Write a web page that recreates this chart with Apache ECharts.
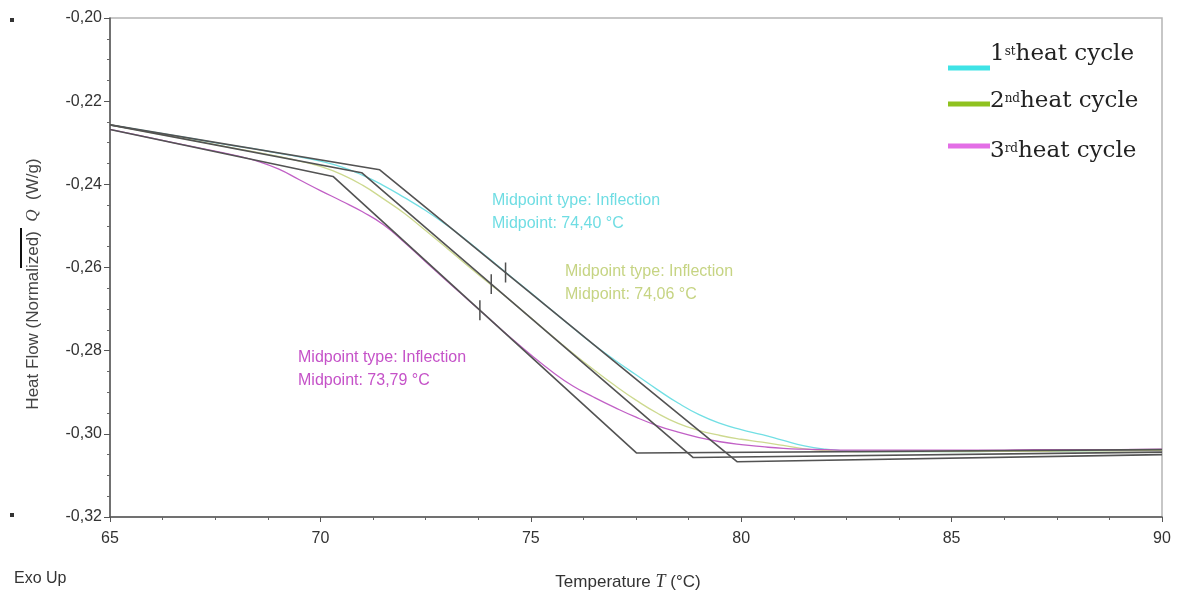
<!DOCTYPE html>
<html>
<head>
<meta charset="utf-8">
<script src="https://cdn.jsdelivr.net/npm/echarts@6/dist/echarts.min.js"></script>
<style>
  html, body { margin: 0; padding: 0; background: #fff; }
  #chart { width: 1179px; height: 599px; }
</style>
</head>
<body>
<div id="chart"></div>
<script>
// DSC glass-transition scans: heat flow vs temperature for three heating cycles
const temps = [65, 66, 67, 68, 68.5, 69, 69.5, 70, 70.5, 71, 71.5, 72, 72.5, 73, 73.5, 74, 74.5, 75, 75.5, 76,
  76.5, 77, 77.5, 78, 78.5, 79, 79.5, 80, 80.5, 81, 81.5, 82, 82.5, 83, 84, 85, 86, 87, 88, 89, 90];

const heat1 = [-0.2257, -0.2274, -0.2291, -0.2308, -0.2316, -0.2325, -0.2334, -0.2344, -0.2358, -0.2378,
  -0.2403, -0.2432, -0.2463, -0.2498, -0.2537, -0.2578, -0.2620, -0.2661, -0.2703, -0.2745,
  -0.2786, -0.2823, -0.2858, -0.2893, -0.2926, -0.2954, -0.2975, -0.2990, -0.3002, -0.3016,
  -0.3029, -0.3037, -0.3041, -0.3043, -0.3043, -0.3043, -0.3042, -0.3042, -0.3041, -0.3040, -0.3039];

const heat2 = [-0.2257, -0.2276, -0.2295, -0.2314, -0.2323, -0.2333, -0.2344, -0.2357, -0.2376, -0.2402,
  -0.2435, -0.2470, -0.2511, -0.2553, -0.2596, -0.2637, -0.2678, -0.2721, -0.2764, -0.2806,
  -0.2846, -0.2884, -0.2919, -0.2950, -0.2975, -0.2992, -0.3004, -0.3013, -0.3020, -0.3028,
  -0.3036, -0.3040, -0.3042, -0.3043, -0.3043, -0.3043, -0.3042, -0.3042, -0.3041, -0.3041, -0.3040];

const heat3 = [-0.2268, -0.2289, -0.2310, -0.2331, -0.2344, -0.2363, -0.2389, -0.2415, -0.2440, -0.2466,
  -0.2497, -0.2540, -0.2586, -0.2632, -0.2677, -0.2722, -0.2767, -0.2810, -0.2850, -0.2885,
  -0.2912, -0.2937, -0.2960, -0.2980, -0.2996, -0.3009, -0.3019, -0.3026, -0.3031, -0.3035,
  -0.3037, -0.3038, -0.3039, -0.3039, -0.3039, -0.3039, -0.3039, -0.3038, -0.3038, -0.3038, -0.3037];

// Onset / tangent / endset construction lines (temperature, heat flow)
const tangent1 = [[65, -0.2257], [71.41, -0.2365], [79.90, -0.3067], [90, -0.3050]];
const tangent2 = [[65, -0.2257], [70.98, -0.2372], [78.86, -0.3057], [90, -0.3044]];
const tangent3 = [[65, -0.2268], [70.30, -0.2381], [77.51, -0.3046], [90, -0.3038]];

// Inflection midpoints
const midT = [74.40, 74.06, 73.79];
const midQ = [-0.2612, -0.2640, -0.2703];
const midLabels = ['74,40', '74,06', '73,79'];

const cycleNames = ['1', '2', '3'];
const cycleSups = ['st', 'nd', 'rd'];

const curveColors = ['#72dfe4', '#cdd98f', '#c160c6'];
const legendColors = ['#3fe3e6', '#8fc21f', '#e36ee6'];
const noteColors = ['#6fdde3', '#c6d483', '#c552c8'];

const sans = "'Liberation Sans', Arial, sans-serif";
const serif = "'DejaVu Serif', serif";

const fmt = v => v.toFixed(2).replace('.', ',');

const series = [];
[heat1, heat2, heat3].forEach((arr, i) => {
  series.push({
    type: 'line',
    data: temps.map((t, j) => [t, arr[j]]),
    showSymbol: false,
    smooth: true,
    lineStyle: { color: curveColors[i], width: 1.3 },
    z: 2
  });
});
[tangent1, tangent2, tangent3].forEach(pts => {
  series.push({
    type: 'line',
    data: pts,
    showSymbol: false,
    lineStyle: { color: '#535353', width: 1.6 },
    z: 3
  });
});
// short vertical markers at each midpoint
const markHalf = 0.0024;
midT.forEach((t, i) => {
  series.push({
    type: 'line',
    data: [[t, midQ[i] + markHalf], [t, midQ[i] - markHalf]],
    showSymbol: false,
    lineStyle: { color: '#505050', width: 1.5 },
    z: 4
  });
});

// annotations
const noteX = [492, 565, 298];
const noteY = [199, 270, 356];
const graphics = [];
midT.forEach((t, i) => {
  graphics.push({
    type: 'text', left: noteX[i], top: noteY[i] - 10,
    style: {
      text: 'Midpoint type: Inflection\nMidpoint: ' + midLabels[i] + ' °C',
      fill: noteColors[i], font: '16px ' + sans, lineHeight: 23
    }
  });
});

// legend: swatch, ordinal with superscript suffix, label
const measure = (() => {
  const ctx = document.createElement('canvas').getContext('2d');
  return (txt, font) => { ctx.font = font; return ctx.measureText(txt).width; };
})();
const legY = [68, 104, 146];
const legBase = [66, 113, 163];
const bigFont = '23px ' + serif;
const supFont = '12px ' + serif;
cycleNames.forEach((n, i) => {
  graphics.push({
    type: 'line',
    shape: { x1: 948, y1: legY[i], x2: 990, y2: legY[i] },
    style: { stroke: legendColors[i], lineWidth: 5 }
  });
  const x0 = 990;
  const w1 = measure(n, bigFont);
  const w2 = measure(cycleSups[i], supFont);
  graphics.push({ type: 'text', x: x0, y: legBase[i],
    style: { text: n, font: bigFont, fill: '#222', verticalAlign: 'bottom' } });
  graphics.push({ type: 'text', x: x0 + w1, y: legBase[i] - 20,
    style: { text: cycleSups[i], font: supFont, fill: '#222', verticalAlign: 'top' } });
  graphics.push({ type: 'text', x: x0 + w1 + w2, y: legBase[i],
    style: { text: 'heat cycle', font: bigFont, fill: '#222', verticalAlign: 'bottom' } });
});

// y-axis title
graphics.push({
  type: 'text', x: 33, y: 284, rotation: Math.PI / 2,
  style: {
    text: 'Heat Flow (Normalized)  {i|Q}  (W/g)',
    fill: '#444', font: '17px ' + sans, align: 'center', verticalAlign: 'middle',
    rich: { i: { fontStyle: 'italic', fontSize: 17, fontFamily: "'Liberation Serif', serif", fill: '#444' } }
  }
});
graphics.push({
  type: 'line', shape: { x1: 21, y1: 228, x2: 21, y2: 268 },
  style: { stroke: '#111', lineWidth: 2 }
});
graphics.push({ type: 'rect', shape: { x: 10, y: 18, width: 4, height: 4 }, style: { fill: '#333' } });
graphics.push({ type: 'rect', shape: { x: 10, y: 513, width: 4, height: 4 }, style: { fill: '#333' } });
graphics.push({
  type: 'text', left: 14, top: 571,
  style: { text: 'Exo Up', fill: '#333', font: '16px ' + sans }
});
graphics.push({
  type: 'text', x: 628, y: 582,
  style: {
    text: 'Temperature {i|T} (°C)', fill: '#333', font: '17px ' + sans,
    align: 'center', verticalAlign: 'middle',
    rich: { i: { fontStyle: 'italic', fontSize: 18, fontFamily: "'Liberation Serif', serif", fill: '#333' } }
  }
});

const chart = echarts.init(document.getElementById('chart'));
chart.setOption({
  animation: false,
  backgroundColor: '#fff',
  grid: { left: 110, right: 17, top: 18, bottom: 82, show: true, borderColor: '#b5b5b5', borderWidth: 1.5 },
  xAxis: {
    type: 'value', min: 65, max: 90, interval: 5,
    axisLine: { lineStyle: { color: '#555', width: 1.5 } },
    axisTick: { length: 5, lineStyle: { color: '#555' } },
    minorTick: { show: true, splitNumber: 4, length: 3, lineStyle: { color: '#666' } },
    splitLine: { show: false },
    axisLabel: { color: '#333', fontSize: 16, fontFamily: sans, margin: 14 }
  },
  yAxis: {
    type: 'value', min: -0.32, max: -0.20, interval: 0.02,
    axisLine: { show: true, lineStyle: { color: '#555', width: 1.5 } },
    axisTick: { show: true, length: 6, lineStyle: { color: '#555' } },
    minorTick: { show: true, splitNumber: 4, length: 3, lineStyle: { color: '#666' } },
    splitLine: { show: false },
    axisLabel: { color: '#333', fontSize: 16, fontFamily: sans, margin: 8, formatter: v => fmt(v) }
  },
  series: series,
  graphic: graphics
});
</script>
</body>
</html>
